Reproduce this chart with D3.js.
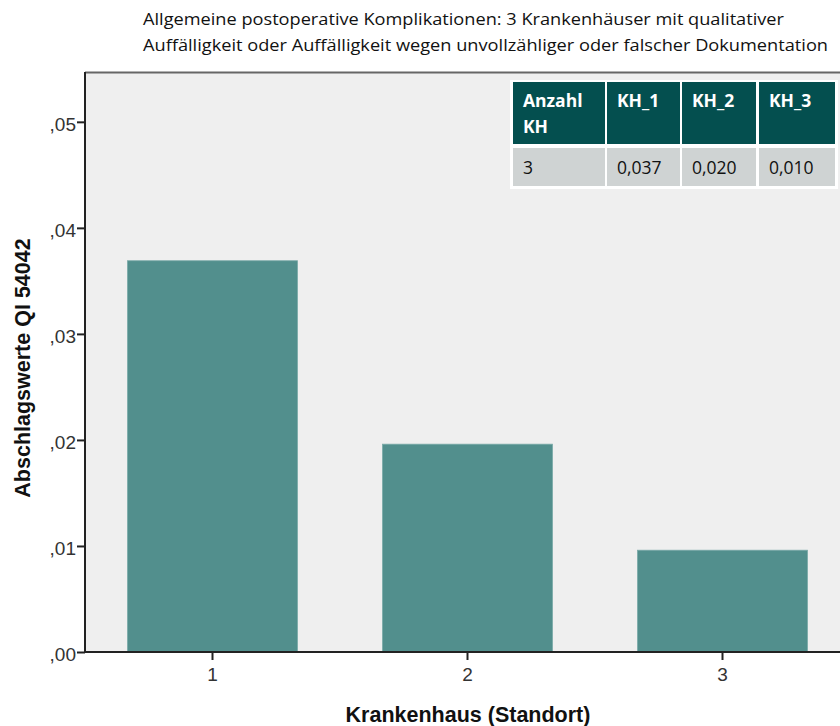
<!DOCTYPE html>
<html>
<head>
<meta charset="utf-8">
<script src="https://cdn.jsdelivr.net/npm/d3@7"></script>
<style>
  body { margin: 0; background: #ffffff; }
  svg { display: block; }
</style>
</head>
<body>
<svg id="chart" width="840" height="726"></svg>
<script>
// Abschlagswerte QI 54042 je Krankenhaus
const categories = ["1", "2", "3"];
const values = [0.0369, 0.0196, 0.0096];
const yTicks = [0, 0.01, 0.02, 0.03, 0.04, 0.05];
const tableHeader = ["Anzahl\nKH", "KH_1", "KH_2", "KH_3"];
const tableCount = 3;

const titleLines = [
  "Allgemeine postoperative Komplikationen: 3 Krankenhäuser mit qualitativer",
  "Auffälligkeit oder Auffälligkeit wegen unvollzähliger oder falscher Dokumentation"
];

const svg = d3.select("#chart");
const W = 840, H = 726;
const plot = { left: 85, top: 72, bottom: 652, right: 850 };

const x = d3.scaleBand()
  .domain(categories)
  .range([plot.left, plot.right])
  .paddingInner(1 / 3)
  .paddingOuter(1 / 6);

const y = d3.scaleLinear()
  .domain([0, 0.0547])
  .range([plot.bottom, plot.top]);

// title
svg.append("g")
  .selectAll("text")
  .data(titleLines)
  .join("text")
  .attr("x", 143)
  .attr("y", (d, i) => 25 + i * 26)
  .attr("font-family", "'Open Sans', sans-serif")
  .attr("font-size", 17)
  .attr("fill", "#111")
  .attr("textLength", (d, i) => i === 0 ? 641 : 685)
  .attr("lengthAdjust", "spacingAndGlyphs")
  .text(d => d);

// plot background
svg.append("rect")
  .attr("x", plot.left)
  .attr("y", plot.top)
  .attr("width", W - plot.left)
  .attr("height", plot.bottom - plot.top)
  .attr("fill", "#efefef");

// top frame line
svg.append("line")
  .attr("x1", plot.left).attr("x2", W)
  .attr("y1", plot.top + 0.5).attr("y2", plot.top + 0.5)
  .attr("stroke", "#666").attr("stroke-width", 2);

// bars
svg.append("g")
  .selectAll("rect")
  .data(values)
  .join("rect")
  .attr("x", (d, i) => x(categories[i]))
  .attr("width", x.bandwidth())
  .attr("y", d => y(d))
  .attr("height", d => y(0) - y(d))
  .attr("fill", "#528f8d")
  .attr("stroke", "#7aaaa8")
  .attr("stroke-width", 0.8);

const axisFont = "'Liberation Sans', Arial, sans-serif";

// y axis
const yAxis = svg.append("g")
  .attr("transform", `translate(${plot.left},0)`)
  .call(d3.axisLeft(y)
    .tickValues(yTicks)
    .tickSize(8)
    .tickFormat(d => d3.format(".2f")(d).replace(/^0\./, ",")));
yAxis.select(".domain").attr("stroke", "#222").attr("stroke-width", 2)
  .attr("d", `M0,${plot.top}V${plot.bottom}`);
yAxis.selectAll(".tick line").attr("stroke", "#222").attr("stroke-width", 2);
yAxis.selectAll(".tick text")
  .attr("font-family", axisFont)
  .attr("font-size", 19)
  .attr("fill", "#333")
  .attr("x", -9)
  .attr("dy", "0.45em");

// x axis
const xAxis = svg.append("g")
  .attr("transform", `translate(0,${plot.bottom})`)
  .call(d3.axisBottom(x).tickSize(8).tickPadding(8));
xAxis.select(".domain").attr("stroke", "#222").attr("stroke-width", 2)
  .attr("d", `M${plot.left},0H${W}`);
xAxis.selectAll(".tick line").attr("stroke", "#222").attr("stroke-width", 2);
xAxis.selectAll(".tick text")
  .attr("font-family", axisFont)
  .attr("font-size", 19)
  .attr("fill", "#333");

// axis titles
svg.append("text")
  .attr("x", 468).attr("y", 722)
  .attr("text-anchor", "middle")
  .attr("font-family", axisFont)
  .attr("font-weight", "bold")
  .attr("font-size", 21.5)
  .attr("fill", "#111")
  .text("Krankenhaus (Standort)");

svg.append("text")
  .attr("transform", "translate(30,368) rotate(-90)")
  .attr("text-anchor", "middle")
  .attr("font-family", axisFont)
  .attr("font-weight", "bold")
  .attr("font-size", 21.5)
  .attr("fill", "#111")
  .text("Abschlagswerte QI 54042");

// value table
const colX = [513, 607, 682, 759];
const colW = [92, 73, 74, 76];
const headTop = 82, headH = 62, rowTop = 148, rowH = 38;
const fmt = d => d3.format(".3f")(d).replace(".", ",");
const rowCells = [String(tableCount), ...values.map(fmt)];

const table = svg.append("g");
table.append("rect")
  .attr("x", 510).attr("y", 80).attr("width", 328).attr("height", 109)
  .attr("fill", "#ffffff");

table.selectAll("rect.head")
  .data(tableHeader)
  .join("rect")
  .attr("class", "head")
  .attr("x", (d, i) => colX[i]).attr("y", headTop)
  .attr("width", (d, i) => colW[i]).attr("height", headH)
  .attr("fill", "#044f4f");

table.selectAll("text.head")
  .data(tableHeader)
  .join("text")
  .attr("class", "head")
  .attr("x", (d, i) => colX[i] + 10)
  .attr("y", headTop + 25)
  .attr("font-family", "'Open Sans', sans-serif")
  .attr("font-weight", "bold")
  .attr("font-size", 17.5)
  .attr("fill", "#ffffff")
  .each(function (d) {
    d.split("\n").forEach((line, k) => {
      d3.select(this).append("tspan")
        .attr("x", d3.select(this).attr("x"))
        .attr("dy", k === 0 ? 0 : 26)
        .text(line);
    });
  });

table.selectAll("rect.row")
  .data(rowCells)
  .join("rect")
  .attr("class", "row")
  .attr("x", (d, i) => colX[i]).attr("y", rowTop)
  .attr("width", (d, i) => colW[i]).attr("height", rowH)
  .attr("fill", "#cfd3d3");

table.selectAll("text.row")
  .data(rowCells)
  .join("text")
  .attr("class", "row")
  .attr("x", (d, i) => colX[i] + 10)
  .attr("y", rowTop + 26)
  .attr("font-family", "'Open Sans', sans-serif")
  .attr("font-size", 17.5)
  .attr("fill", "#111")
  .text(d => d);
</script>
</body>
</html>
